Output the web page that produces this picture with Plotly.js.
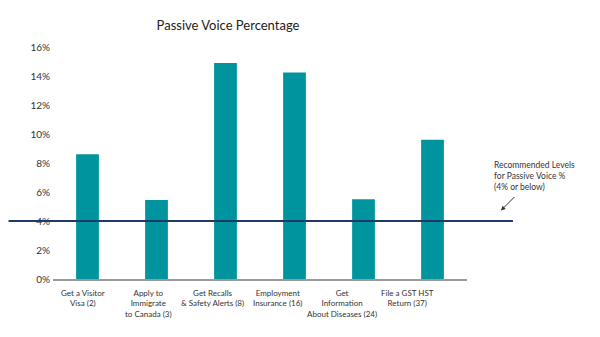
<!DOCTYPE html>
<html>
<head>
<meta charset="utf-8">
<script src="https://cdn.plot.ly/plotly-3.0.1.min.js"></script>
<style>html,body{margin:0;padding:0;background:#fff;}#chart{width:600px;height:337px;}</style>
</head>
<body>
<div id="chart"></div>
<script>
// Data
var categories = [
  "Get a Visitor<br>Visa (2)",
  "Apply to<br>Immigrate<br>to Canada (3)",
  "Get Recalls<br>& Safety Alerts (8)",
  "Employment<br>Insurance (16)",
  "Get<br>Information<br>About Diseases (24)",
  "File a GST HST<br>Return (37)"
];
var passivePct = [8.6, 5.45, 14.9, 14.25, 5.5, 9.6];
var recommendedLevel = 4;
var yTicks = [0, 2, 4, 6, 8, 10, 12, 14, 16];
var yTickLabels = ["0%", "2%", "4%", "6%", "8%", "10%", "12%", "14%", "16%"];
var recommendedText = "Recommended Levels<br>for Passive Voice %<br>(4% or below)";
var titleText = "Passive Voice Percentage";

// Layout geometry (pixels)
var W = 600, H = 337;
var plotL = 52.5, plotR = 467, plotT = 47, plotB = 279;
var plotW = plotR - plotL, plotH = plotB - plotT;
function px2paperX(px) { return (px - plotL) / plotW; }
function px2paperY(py) { return (plotB - py) / plotH; }

var font = "Lato, 'Open Sans', sans-serif";

var labelAnnotations = categories.map(function (c, i) {
  var cx = 50.6 + 64.8 * (i + 0.5);
  return {
    text: c, xref: 'paper', yref: 'paper',
    x: px2paperX(cx), y: 0, xanchor: 'center', yanchor: 'top',
    yshift: -7, showarrow: false, align: 'center',
    font: {family: font, size: 8, color: '#333'}
  };
});

var annotations = labelAnnotations.concat([
  {
    text: recommendedText, xref: 'paper', yref: 'paper',
    x: px2paperX(492), y: px2paperY(158), xanchor: 'left', yanchor: 'top',
    showarrow: false, align: 'left',
    font: {family: font, size: 8.5, color: '#333'}
  },
  {
    text: '', xref: 'paper', yref: 'paper',
    x: px2paperX(501), y: px2paperY(210.5),
    ax: 15, ay: -15, showarrow: true,
    arrowhead: 2, arrowsize: 0.9, arrowwidth: 1, arrowcolor: '#333', standoff: 0
  }
]);

var trace = {
  type: 'bar',
  x: categories,
  y: passivePct,
  width: 0.33,
  marker: {color: '#00959E'},
  hoverinfo: 'none'
};

var layout = {
  width: W, height: H,
  margin: {l: plotL, r: W - plotR, t: plotT, b: H - plotB, pad: 0},
  paper_bgcolor: '#fff', plot_bgcolor: '#fff',
  showlegend: false,
  title: {
    text: titleText, x: 228 / W, xanchor: 'center', xref: 'container',
    y: 1 - 25 / H, yanchor: 'middle', yref: 'container',
    font: {family: font, size: 13, color: '#222'}
  },
  xaxis: {
    type: 'category', range: [-0.5, 5.5],
    showticklabels: false, ticks: '', showgrid: false, zeroline: false,
    showline: true, linecolor: '#9a9a9a', linewidth: 1.5
  },
  yaxis: {
    range: [0, 16], tickmode: 'array', tickvals: yTicks, ticktext: yTickLabels,
    showgrid: false, zeroline: false, showline: false, ticks: '',
    ticklabelstandoff: 2,
    tickfont: {family: font, size: 10, color: '#333'}
  },
  shapes: [{
    type: 'line', xref: 'paper', yref: 'y',
    x0: px2paperX(8), x1: px2paperX(513),
    y0: recommendedLevel, y1: recommendedLevel,
    line: {color: '#1E3A6A', width: 1.8}, layer: 'above'
  }],
  annotations: annotations
};

Plotly.newPlot('chart', [trace], layout, {staticPlot: true, displayModeBar: false});
</script>
</body>
</html>
